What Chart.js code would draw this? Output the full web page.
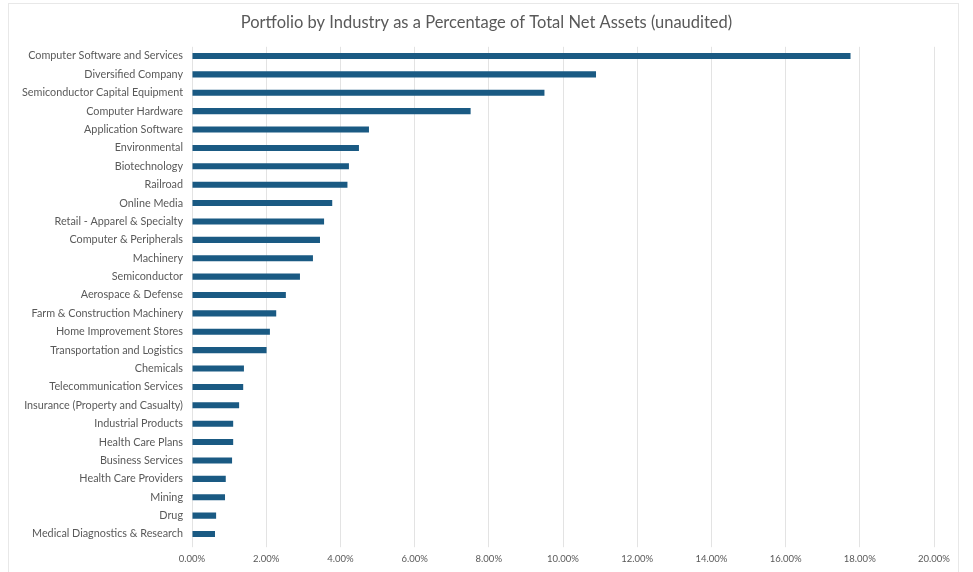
<!DOCTYPE html>
<html>
<head>
<meta charset="utf-8">
<script src="https://cdn.jsdelivr.net/npm/chart.js@4"></script>
<style>
  html, body { margin: 0; padding: 0; background: #fff; }
  #wrap { width: 973px; height: 572px; }
</style>
</head>
<body>
<div id="wrap"><canvas id="chart" width="973" height="572"></canvas></div>
<script>
const industries = [
  'Computer Software and Services', 'Diversified Company', 'Semiconductor Capital Equipment',
  'Computer Hardware', 'Application Software', 'Environmental', 'Biotechnology', 'Railroad',
  'Online Media', 'Retail - Apparel & Specialty', 'Computer & Peripherals', 'Machinery',
  'Semiconductor', 'Aerospace & Defense', 'Farm & Construction Machinery',
  'Home Improvement Stores', 'Transportation and Logistics', 'Chemicals',
  'Telecommunication Services', 'Insurance (Property and Casualty)', 'Industrial Products',
  'Health Care Plans', 'Business Services', 'Health Care Providers', 'Mining', 'Drug',
  'Medical Diagnostics & Research'
];
const weights = [
  17.75, 10.89, 9.50, 7.51, 4.77, 4.50, 4.23, 4.19, 3.78, 3.56, 3.45, 3.26, 2.91,
  2.53, 2.27, 2.10, 2.01, 1.40, 1.38, 1.27, 1.11, 1.11, 1.08, 0.91, 0.89, 0.65, 0.62
];
const xMin = 0, xMax = 20, xStep = 2;

const grey = '#595959';

// faint frame round the whole chart, like the spreadsheet chart box
const frame = {
  id: 'frame',
  beforeDraw(chart) {
    const c = chart.ctx;
    c.save();
    c.fillStyle = '#fff';
    c.fillRect(0, 0, chart.width, chart.height);
    c.strokeStyle = '#e8e8e8';
    c.lineWidth = 1;
    c.strokeRect(8.5, 3.5, 950, 580);
    c.restore();
  }
};

new Chart(document.getElementById('chart'), {
  type: 'bar',
  data: {
    labels: industries,
    datasets: [{
      data: weights,
      backgroundColor: '#1a5a83',
      barPercentage: 0.66,
      categoryPercentage: 0.5
    }]
  },
  options: {
    indexAxis: 'y',
    responsive: false,
    animation: false,
    layout: { padding: 0 },
    plugins: {
      legend: { display: false },
      tooltip: { enabled: false },
      title: {
        display: true,
        text: 'Portfolio by Industry as a Percentage of Total Net Assets (unaudited)',
        color: grey,
        font: { family: 'Lato', size: 16.5, weight: 'normal' },
        padding: { top: 12.5, bottom: 14.5 }
      }
    },
    scales: {
      x: {
        min: xMin,
        max: xMax,
        afterFit(scale) {
          scale.height = 28.8;
          scale.paddingRight = 39; // keeps plot right edge at 934 while title stays centred
        },
        grid: { color: '#e3e3e3', tickLength: 4, tickColor: '#e3e3e3' },
        border: { display: false },
        ticks: {
          stepSize: xStep,
          padding: 6,
          color: grey,
          font: { family: 'Lato', size: 9.5 },
          callback: v => v.toFixed(2) + '%'
        }
      },
      y: {
        afterFit(scale) { scale.width = 192; },
        grid: { display: false, drawTicks: false },
        border: { display: false },
        ticks: {
          padding: 9,
          autoSkip: false,
          color: grey,
          font: { family: 'Lato', size: 10.8 }
        }
      }
    }
  },
  plugins: [frame]
});
</script>
</body>
</html>
